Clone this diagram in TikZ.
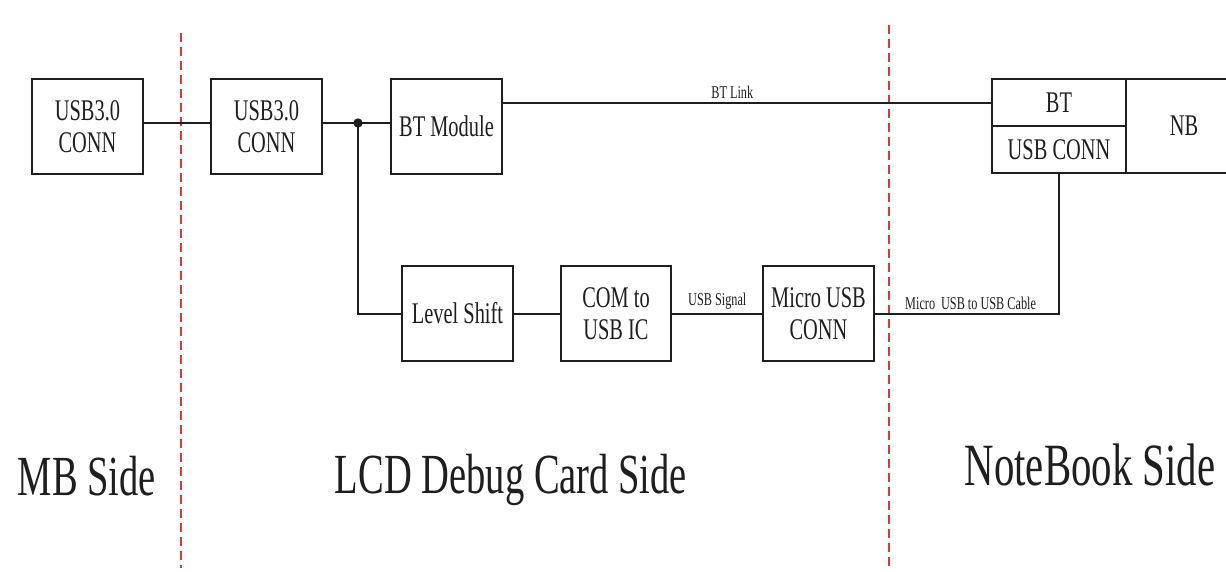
\documentclass[tikz,border=0pt]{standalone}
\usepackage{fontspec}
\setmainfont{Liberation Serif}[FakeStretch=0.68]
\usetikzlibrary{positioning}
\definecolor{dbgInk}{HTML}{1E1E1E}
\definecolor{dbgRed}{HTML}{D23C3C}
\tikzset{
  dbg box/.style={draw=dbgInk, line width=1.5pt, minimum width=83pt, minimum height=71pt, inner sep=2pt, align=center, font=\fontsize{22.5}{24}\selectfont, text=dbgInk},
  dbg cell/.style={draw=dbgInk, line width=1.5pt, minimum width=100.5pt, minimum height=35.25pt, inner sep=0pt, font=\fontsize{22.5}{24}\selectfont, text=dbgInk},
  dbg wire/.style={draw=dbgInk, line width=1.5pt},
  dbg divider/.style={draw=dbgRed, line width=1.1pt, dash pattern=on 7pt off 3.5pt},
  dbg tag/.style={font=\fontsize{13.5}{14}\selectfont, text=dbgInk, inner sep=2pt},
  dbg side/.style={font=\fontsize{42.5}{44}\selectfont, text=dbgInk, anchor=base},
}

\begin{document}
\begin{tikzpicture}[x=0.75pt, y=-0.75pt]
  \useasboundingbox (0,0) rectangle (1226,571);
  % Side dividers
  \draw[dbg divider] (181,33) -- (181,568);
  \draw[dbg divider] (889,25) -- (889,568);
  % Upper row
  \node[dbg box] (mbconn) at (87.5,126.5) {USB3.0\\CONN};
  \node[dbg box] (lcdconn) at (266.5,126.5) {USB3.0\\CONN};
  \node[dbg box] (btmod) at (446.5,126.5) {BT Module};
  % Lower row
  \node[dbg box] (lvlshift) at (457.5,313.5) {Level Shift};
  \node[dbg box] (comusb) at (616,313.5) {COM to\\USB IC};
  \node[dbg box] (microusb) at (818.5,313.5) {Micro USB\\CONN};
  % Notebook blocks
  \node[dbg cell] (btport) at (1059,102.5) {BT};
  \node[dbg cell] (usbport) at (1059,149.5) {USB CONN};
  \node[draw=dbgInk, line width=1.5pt, minimum width=87pt, minimum height=70.5pt, inner sep=0pt,
        font=\fontsize{22.5}{24}\selectfont, text=dbgInk] (nbhost) at (1184,126) {NB};
  % Links
  \coordinate (split) at (358,123);
  \draw[dbg wire] (mbconn.east |- split) -- (lcdconn.west |- split);
  \draw[dbg wire] (lcdconn.east |- split) -- (split) -- (btmod.west |- split);
  \fill[dbgInk] (split) circle (3.5pt);
  \draw[dbg wire] (btmod.east |- btport.west) -- node[dbg tag, pos=0.47, above] {BT Link} (btport.west);
  \draw[dbg wire] (split) |- (lvlshift.west);
  \draw[dbg wire] (lvlshift.east) -- (comusb.west);
  \draw[dbg wire] (comusb.east) -- node[dbg tag, above] {USB Signal} (microusb.west);
  \draw[dbg wire] (microusb.east) -| node[dbg tag, pos=0.26, above] {Micro\,\,USB to USB Cable} (usbport.south);
  % Side names
  \node[dbg side] (mbside) at (87,495) {MB Side};
  \node[dbg side] (lcdside) at (511,493) {LCD Debug Card Side};
  \node[dbg side, font=\fontsize{45}{48}\selectfont] (nbside) at (1090,485) {NoteBook Side};
\end{tikzpicture}
\end{document}
